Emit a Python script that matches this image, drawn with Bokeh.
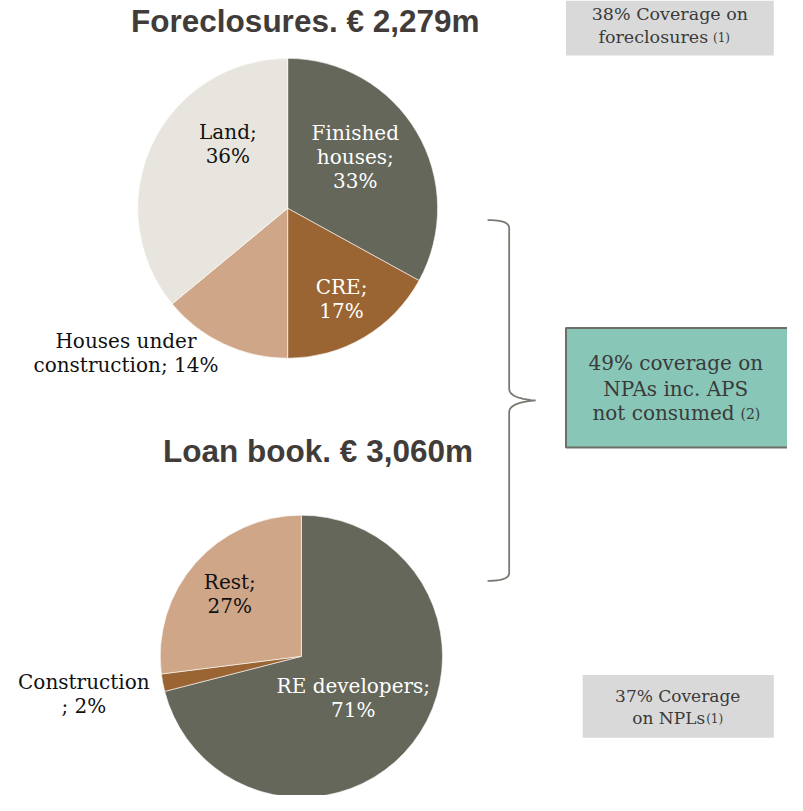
import numpy as np
from bokeh.plotting import figure
from bokeh.models import Range1d, ColumnDataSource
from bokeh.core.properties import value
from bokeh.embed import file_html
from bokeh.resources import INLINE

# ---------------- data ----------------
fc_title = "Foreclosures. € 2,279m"
fc_categories = ["Finished houses", "CRE", "Houses under construction", "Land"]
fc_shares = [33, 17, 14, 36]
fc_labels = ["Finished\nhouses;\n33%", "CRE;\n17%", "Houses under\nconstruction; 14%", "Land;\n36%"]

lb_title = "Loan book. € 3,060m"
lb_categories = ["RE developers", "Construction", "Rest"]
lb_shares = [71, 2, 27]
lb_labels = ["RE developers;\n71%", "Construction\n; 2%", "Rest;\n27%"]

box1_text = ["38% Coverage on", "foreclosures"]
box1_note = "(1)"
box2_text = ["49% coverage on", "NPAs inc. APS", "not consumed"]
box2_note = "(2)"
box3_text = ["37% Coverage", "on NPLs"]
box3_note = "(1)"

# ---------------- styles / layout ----------------
DARK, BROWN, TAN, LIGHT = "#65675B", "#9A6433", "#CFA687", "#E8E5DE"
fc_colors = [DARK, BROWN, TAN, LIGHT]
fc_text_colors = ["white", "white", "#111111", "#111111"]
fc_label_pos = [(362, 160), (348, 304), (128, 360), (232, 146)]
lb_colors = [DARK, BROWN, TAN]
lb_text_colors = ["white", "#111111", "#111111"]
lb_label_pos = [(360, 712), (85, 707), (234, 605)]

SERIF = "DejaVu Serif"
SANS = "Liberation Sans"

# reference canvas 803x811 drawn into a figure that fits the window
REF_W, REF_H = 803, 811
W, H = 787, 795
p = figure(width=W, height=H, output_backend="svg", toolbar_location=None,
           x_range=Range1d(0, REF_W), y_range=Range1d(-REF_H, 0),
           min_border=0, outline_line_color=None, background_fill_color="white")
p.axis.visible = False
p.grid.visible = False


def pie(cx, cy, r, shares, colors):
    s = np.array(shares, dtype=float)
    frac = s / s.sum()
    cum = np.concatenate([[0], np.cumsum(frac)])
    start = np.pi / 2 - 2 * np.pi * cum[:-1]
    end = np.pi / 2 - 2 * np.pi * cum[1:]
    src = ColumnDataSource(dict(x=[cx] * len(s), y=[-cy] * len(s), start=start, end=end, color=colors))
    p.wedge(x="x", y="y", radius=r, start_angle="start", end_angle="end", direction="clock",
            fill_color="color", line_color="white", line_width=0.6, source=src)


def labels(texts, pos, colors, size):
    src = ColumnDataSource(dict(x=[q[0] for q in pos], y=[-q[1] for q in pos], t=texts, c=colors))
    p.text(x="x", y="y", text="t", text_color="c", text_font=value(SERIF), text_font_size=size,
           text_align="center", text_baseline="middle", text_line_height=1.0, source=src)


pie(293, 212, 153, fc_shares, fc_colors)
labels(fc_labels, fc_label_pos, fc_text_colors, "20px")
pie(307, 669, 144, lb_shares, lb_colors)
labels(lb_labels, lb_label_pos, lb_text_colors, "20px")

# titles
p.text(x=[311], y=[-21], text=[fc_title], text_font=value(SANS), text_font_style="bold",
       text_font_size="31.5px", text_color="#413C39", text_align="center", text_baseline="middle")
p.text(x=[324], y=[-460], text=[lb_title], text_font=value(SANS), text_font_style="bold",
       text_font_size="31.5px", text_color="#413C39", text_align="center", text_baseline="middle")

# boxes
p.quad(left=[577], right=[789], top=[0], bottom=[-56], fill_color="#D9D9D9", line_color=None)
p.quad(left=[577], right=[806], top=[-334], bottom=[-456], fill_color="#88C6B8",
       line_color="#6E6E66", line_width=2)
p.quad(left=[594], right=[789], top=[-688], bottom=[-752], fill_color="#D9D9D9", line_color=None)

TXT = "#3A3A3A"
p.text(x=[683], y=[-14], text=[box1_text[0]], text_font=value(SERIF), text_font_size="17.5px",
       text_color=TXT, text_align="center", text_baseline="middle")
p.text(x=[722], y=[-37], text=[box1_text[1]], text_font=value(SERIF), text_font_size="17.5px",
       text_color=TXT, text_align="right", text_baseline="middle")
p.text(x=[727], y=[-38], text=[box1_note], text_font=value(SERIF), text_font_size="12px",
       text_color=TXT, text_align="left", text_baseline="middle")

p.text(x=[689, 689], y=[-370, -396], text=box2_text[:2], text_font=value(SERIF), text_font_size="20px",
       text_color=TXT, text_align="center", text_baseline="middle")
p.text(x=[749], y=[-421], text=[box2_text[2]], text_font=value(SERIF), text_font_size="20px",
       text_color=TXT, text_align="right", text_baseline="middle")
p.text(x=[755], y=[-422], text=[box2_note], text_font=value(SERIF), text_font_size="14px",
       text_color=TXT, text_align="left", text_baseline="middle")

p.text(x=[691], y=[-710], text=[box3_text[0]], text_font=value(SERIF), text_font_size="17px",
       text_color=TXT, text_align="center", text_baseline="middle")
p.text(x=[719], y=[-732], text=[box3_text[1]], text_font=value(SERIF), text_font_size="17px",
       text_color=TXT, text_align="right", text_baseline="middle")
p.text(x=[720], y=[-733], text=[box3_note], text_font=value(SERIF), text_font_size="12px",
       text_color=TXT, text_align="left", text_baseline="middle")

# curly bracket
def qcurve(p0, p1, p2, n=12):
    t = np.linspace(0, 1, n)[:, None]
    a, b, c = map(np.array, (p0, p1, p2))
    return (1 - t) ** 2 * a + 2 * (1 - t) * t * b + t ** 2 * c

seg = [
    qcurve((497, 224), (519, 224), (519, 232)),
    qcurve((519, 396), (519, 406), (546, 408)),
    qcurve((546, 408), (519, 410), (519, 420)),
    qcurve((519, 584), (519, 592), (497, 592)),
]
pts = np.vstack(seg)
p.line(x=pts[:, 0], y=-pts[:, 1], line_color="#7A7A72", line_width=1.8)

open("out.html", "w").write(file_html(p, INLINE))
